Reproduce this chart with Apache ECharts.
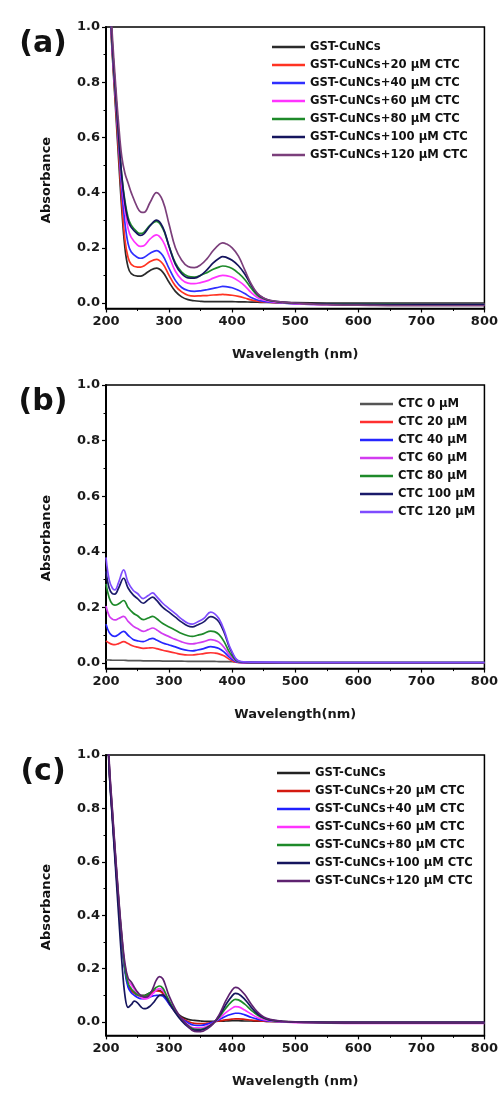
<!DOCTYPE html>
<html>
<head>
<meta charset="utf-8">
<script src="https://cdn.jsdelivr.net/npm/echarts@6/dist/echarts.min.js"></script>
<style>
html, body { margin: 0; padding: 0; background: #fff; }
#main { width: 501px; height: 1093px; }
</style>
</head>
<body>
<div id="main"></div>
<script>
// ---- data ----
var namesA = ['GST-CuNCs', 'GST-CuNCs+20 μM CTC', 'GST-CuNCs+40 μM CTC', 'GST-CuNCs+60 μM CTC',
	'GST-CuNCs+80 μM CTC', 'GST-CuNCs+100 μM CTC', 'GST-CuNCs+120 μM CTC'];
var namesB = ['CTC 0 μM', 'CTC 20 μM', 'CTC 40 μM', 'CTC 60 μM', 'CTC 80 μM', 'CTC 100 μM', 'CTC 120 μM'];
var namesC = namesA;
var xTicks = [200, 300, 400, 500, 600, 700, 800];
var yTicks = [0, 0.2, 0.4, 0.6, 0.8, 1.0];
var yMinor = [0.1, 0.3, 0.5, 0.7, 0.9];

// (a) GST-CuNCs + CTC
var wlA = [200,205,210,215,220,225,230,235,240,250,255,260,270,280,290,300,310,320,330,340,350,360,370,380,385,390,400,410,420,430,440,450,460,480,500,550,600,700,800];
var absA0 = [1.40,1.12,0.90,0.71,0.52,0.34,0.20,0.13,0.106,0.097,0.097,0.102,0.118,0.126,0.112,0.075,0.042,0.022,0.012,0.008,0.006,0.005,0.005,0.005,0.005,0.005,0.005,0.004,0.004,0.003,0.003,0.002,0.002,0.001,0.001,0,0,0,0];
var absA20 = [1.40,1.13,0.91,0.73,0.55,0.37,0.23,0.165,0.14,0.13,0.13,0.134,0.15,0.158,0.142,0.10,0.062,0.04,0.028,0.025,0.026,0.027,0.029,0.03,0.031,0.03,0.028,0.024,0.018,0.011,0.007,0.004,0.002,0,-0.002,-0.003,-0.003,-0.003,-0.003];
var absA40 = [1.40,1.14,0.92,0.75,0.58,0.41,0.29,0.215,0.185,0.165,0.162,0.165,0.18,0.19,0.172,0.125,0.082,0.056,0.045,0.042,0.044,0.048,0.053,0.058,0.06,0.059,0.055,0.046,0.034,0.02,0.011,0.006,0.003,0,-0.003,-0.005,-0.005,-0.005,-0.005];
var absA60 = [1.40,1.15,0.93,0.76,0.60,0.44,0.34,0.27,0.238,0.21,0.205,0.207,0.232,0.247,0.225,0.17,0.115,0.085,0.072,0.07,0.074,0.08,0.09,0.098,0.10,0.099,0.093,0.08,0.062,0.038,0.02,0.011,0.006,0.001,-0.002,-0.006,-0.007,-0.008,-0.008];
var absA80 = [1.40,1.16,0.94,0.77,0.61,0.46,0.37,0.31,0.282,0.256,0.252,0.256,0.282,0.296,0.27,0.205,0.145,0.112,0.097,0.094,0.10,0.11,0.122,0.131,0.134,0.133,0.125,0.108,0.085,0.054,0.028,0.015,0.008,0.002,-0.001,-0.004,-0.004,-0.005,-0.005];
var absA100 = [1.40,1.16,0.94,0.77,0.61,0.46,0.36,0.30,0.274,0.25,0.245,0.25,0.28,0.30,0.275,0.205,0.14,0.106,0.091,0.09,0.10,0.12,0.145,0.163,0.168,0.166,0.155,0.135,0.105,0.065,0.033,0.017,0.009,0.003,0,-0.004,-0.005,-0.006,-0.006];
var absA120 = [1.40,1.18,0.97,0.80,0.65,0.53,0.47,0.435,0.40,0.345,0.33,0.328,0.365,0.40,0.37,0.285,0.20,0.155,0.132,0.128,0.138,0.16,0.19,0.213,0.218,0.215,0.20,0.17,0.12,0.07,0.035,0.018,0.01,0.003,0,-0.006,-0.008,-0.01,-0.01];

// (b) CTC alone
var wlB = [200,205,210,214,220,228,235,243,250,259,267,274,280,290,300,310,320,330,337,345,355,366,372,379,387,395,400,406,412,420,440,460,500,600,700,800];
var absB0 = [0.011,0.011,0.010,0.010,0.010,0.010,0.009,0.009,0.009,0.008,0.008,0.008,0.008,0.007,0.007,0.007,0.007,0.006,0.006,0.006,0.006,0.006,0.006,0.005,0.005,0.005,0.005,0.004,0.004,0.003,0.003,0.002,0.002,0.002,0.002,0.002];
var absB20 = [0.08,0.072,0.067,0.066,0.07,0.077,0.07,0.061,0.057,0.053,0.054,0.055,0.052,0.046,0.041,0.036,0.031,0.029,0.029,0.031,0.034,0.037,0.036,0.033,0.026,0.014,0.008,0.003,0.001,0,0,0,0,0,0,0];
var absB40 = [0.14,0.11,0.098,0.096,0.103,0.114,0.10,0.085,0.08,0.077,0.084,0.089,0.083,0.072,0.065,0.058,0.05,0.045,0.044,0.047,0.052,0.059,0.057,0.052,0.04,0.022,0.013,0.005,0.002,0.001,0.001,0.001,0.001,0.001,0.001,0.001];
var absB60 = [0.205,0.17,0.158,0.155,0.16,0.168,0.15,0.133,0.124,0.114,0.12,0.126,0.12,0.105,0.095,0.085,0.076,0.07,0.069,0.072,0.077,0.084,0.082,0.075,0.057,0.031,0.019,0.008,0.003,0.002,0.002,0.002,0.002,0.002,0.002,0.002];
var absB80 = [0.285,0.235,0.212,0.208,0.213,0.225,0.20,0.18,0.17,0.156,0.162,0.168,0.16,0.142,0.13,0.118,0.106,0.098,0.096,0.10,0.106,0.115,0.113,0.103,0.078,0.042,0.026,0.01,0.004,0.003,0.002,0.002,0.002,0.002,0.002,0.002];
var absB100 = [0.33,0.27,0.25,0.248,0.27,0.305,0.27,0.245,0.232,0.215,0.228,0.237,0.226,0.20,0.183,0.165,0.147,0.133,0.13,0.137,0.148,0.167,0.163,0.148,0.112,0.06,0.036,0.013,0.005,0.003,0.002,0.002,0.002,0.002,0.002,0.002];
var absB120 = [0.38,0.30,0.27,0.263,0.29,0.335,0.29,0.262,0.25,0.232,0.243,0.252,0.24,0.215,0.196,0.178,0.158,0.143,0.14,0.148,0.16,0.183,0.178,0.16,0.12,0.065,0.04,0.015,0.006,0.004,0.003,0.003,0.002,0.002,0.002,0.002];

// (c) GST-CuNCs + CTC, difference spectra
var wlC = [200,205,210,215,220,225,230,235,240,245,250,255,260,265,270,275,280,285,290,295,300,310,320,330,340,350,360,370,380,390,400,405,410,420,430,440,450,460,480,500,600,700,800];
var absC0 = [1.3,0.95,0.77,0.60,0.44,0.30,0.20,0.14,0.12,0.11,0.103,0.10,0.10,0.104,0.11,0.117,0.12,0.118,0.11,0.092,0.072,0.04,0.02,0.01,0.006,0.004,0.003,0.003,0.003,0.004,0.005,0.005,0.005,0.004,0.004,0.003,0.003,0.002,0.002,0.001,0,0,0];
var absC20 = [1.3,0.96,0.78,0.61,0.45,0.31,0.20,0.14,0.118,0.108,0.10,0.097,0.097,0.10,0.107,0.113,0.117,0.115,0.107,0.09,0.07,0.037,0.015,0.002,-0.005,-0.006,-0.004,0,0.004,0.008,0.011,0.012,0.012,0.01,0.007,0.005,0.003,0.002,0.001,0,-0.002,-0.002,-0.002];
var absC40 = [1.3,0.96,0.78,0.61,0.45,0.30,0.19,0.13,0.11,0.10,0.092,0.088,0.088,0.09,0.094,0.098,0.10,0.10,0.097,0.085,0.068,0.038,0.013,-0.003,-0.012,-0.013,-0.008,0,0.01,0.022,0.03,0.033,0.033,0.027,0.018,0.011,0.006,0.003,0.001,0,-0.002,-0.002,-0.002];
var absC60 = [1.3,0.97,0.79,0.62,0.46,0.32,0.21,0.155,0.14,0.122,0.105,0.093,0.087,0.088,0.095,0.108,0.12,0.125,0.118,0.098,0.075,0.038,0.01,-0.01,-0.022,-0.022,-0.015,-0.003,0.015,0.035,0.052,0.058,0.057,0.045,0.03,0.017,0.009,0.005,0.001,-0.002,-0.005,-0.005,-0.005];
var absC80 = [1.3,0.97,0.79,0.62,0.46,0.32,0.20,0.145,0.125,0.112,0.102,0.097,0.097,0.102,0.11,0.12,0.13,0.135,0.127,0.105,0.08,0.038,0.008,-0.013,-0.026,-0.027,-0.02,-0.005,0.02,0.052,0.078,0.085,0.083,0.067,0.045,0.026,0.014,0.007,0.002,0,-0.003,-0.003,-0.003];
var absC100 = [1.3,0.95,0.76,0.58,0.40,0.23,0.10,0.055,0.065,0.078,0.072,0.058,0.05,0.052,0.06,0.072,0.088,0.10,0.102,0.092,0.072,0.035,0.004,-0.018,-0.03,-0.03,-0.022,-0.005,0.025,0.065,0.098,0.107,0.105,0.085,0.056,0.031,0.016,0.008,0.002,0,-0.002,-0.002,-0.002];
var absC120 = [1.3,0.98,0.80,0.63,0.47,0.33,0.22,0.165,0.15,0.13,0.112,0.10,0.093,0.094,0.105,0.13,0.158,0.17,0.162,0.132,0.098,0.048,0.012,-0.015,-0.035,-0.036,-0.026,-0.006,0.03,0.08,0.12,0.13,0.127,0.103,0.068,0.038,0.019,0.01,0.003,0,-0.003,-0.003,-0.003];

// ---- styling ----
var FONT = 'DejaVu Sans';
var colorsA = ['#2b2b2b', '#ff3322', '#2f2fff', '#ff33ff', '#1e8a2a', '#15155e', '#7b3f7b'];
var colorsB = ['#555555', '#ff3030', '#2626ff', '#d23cf0', '#1e8a2a', '#1a1a6a', '#7f4cff'];
var colorsC = ['#222222', '#d41a10', '#2020ff', '#ff33ff', '#1e8a2a', '#15155e', '#5e2270'];

var panels = [
	{ label: '(a)', top: 27, height: 281.5, min: -0.02, wl: wlA, sets: [absA0, absA20, absA40, absA60, absA80, absA100, absA120],
		names: namesA, colors: colorsA, xName: 'Wavelength (nm)', legendLeft: 267, legendTop: 35, titleY: 180 },
	{ label: '(b)', top: 385, height: 283.6, min: -0.02, wl: wlB, sets: [absB0, absB20, absB40, absB60, absB80, absB100, absB120],
		names: namesB, colors: colorsB, xName: 'Wavelength(nm)', legendLeft: 355, legendTop: 392, titleY: 538 },
	{ label: '(c)', top: 755, height: 280.4, min: -0.05, wl: wlC, sets: [absC0, absC20, absC40, absC60, absC80, absC100, absC120],
		names: namesC, colors: colorsC, xName: 'Wavelength (nm)', legendLeft: 272, legendTop: 761, titleY: 907 }
];

var labelStyle = { fontFamily: FONT, fontWeight: 'bold', fontSize: 13, color: '#1a1a1a' };

var grid = [], xAxis = [], yAxis = [], series = [], legend = [], graphic = [];

panels.forEach(function(p, i){
	grid.push({ left: 106, width: 379, top: p.top, height: p.height, show: true,
		borderColor: '#000', borderWidth: 1.5 });

	xAxis.push({
		type: 'value', gridIndex: i, min: 200, max: 800, interval: 100,
		axisLine: { onZero: false, lineStyle: { color: '#000', width: 1.5 } },
		axisTick: { length: 4, lineStyle: { color: '#000', width: 1.2 } },
		minorTick: { show: true, splitNumber: 2, length: 2.5, lineStyle: { color: '#000', width: 1 } },
		splitLine: { show: false },
		axisLabel: Object.assign({ margin: 7, customValues: xTicks }, labelStyle),
		name: p.xName, nameLocation: 'middle', nameGap: 40,
		nameTextStyle: labelStyle
	});

	yAxis.push({
		type: 'value', gridIndex: i, position: 'left', min: p.min, max: 1,
		axisLine: { show: true, onZero: false, lineStyle: { color: '#000', width: 2 } },
		axisTick: { show: true, length: 4, customValues: yTicks, lineStyle: { color: '#000', width: 1.2 } },
		splitLine: { show: false },
		axisLabel: Object.assign({ margin: 6, customValues: yTicks, formatter: function(v){ return v.toFixed(1); } }, labelStyle)
	});
	// minor ticks at the half steps, sharing the left edge
	yAxis.push({
		type: 'value', gridIndex: i, position: 'left', offset: 0, min: p.min, max: 1,
		axisLine: { show: false, onZero: false },
		axisTick: { show: true, length: 2.5, customValues: yMinor, lineStyle: { color: '#000', width: 1 } },
		splitLine: { show: false },
		axisLabel: { show: false }
	});

	p.sets.forEach(function(vals, k){
		series.push({
			type: 'line', name: p.names[k], xAxisIndex: i, yAxisIndex: i * 2,
			data: p.wl.map(function(w, j){ return [w, vals[j]]; }),
			showSymbol: false, symbol: 'none', smooth: 0.4, clip: true,
			lineStyle: { color: p.colors[k], width: 1.7 },
			itemStyle: { color: p.colors[k] },
			emphasis: { disabled: true }, silent: true
		});
	});

	legend.push({
		orient: 'vertical', left: p.legendLeft, top: p.legendTop,
		itemWidth: 33, itemHeight: 2.5, itemGap: 4, icon: 'rect', selectedMode: false,
		textStyle: { fontFamily: FONT, fontWeight: 'bold', fontSize: 11.6, color: '#111', lineHeight: 14 },
		data: p.names.map(function(n, k){ return { name: n, itemStyle: { color: p.colors[k] } }; })
	});

	graphic.push({ type: 'text', x: 43, y: p.top + 17,
		style: { text: p.label, font: 'bold 30px "DejaVu Sans"', fill: '#111', align: 'center', verticalAlign: 'middle' } });
	graphic.push({ type: 'text', x: 47, y: p.titleY, rotation: Math.PI / 2,
		style: { text: 'Absorbance', font: 'bold 13px "DejaVu Sans"', fill: '#111', align: 'center', verticalAlign: 'middle' } });
});

var chart = echarts.init(document.getElementById('main'));
chart.setOption({
	backgroundColor: '#fff',
	animation: false,
	grid: grid,
	xAxis: xAxis,
	yAxis: yAxis,
	legend: legend,
	graphic: graphic,
	series: series
});
</script>
</body>
</html>
